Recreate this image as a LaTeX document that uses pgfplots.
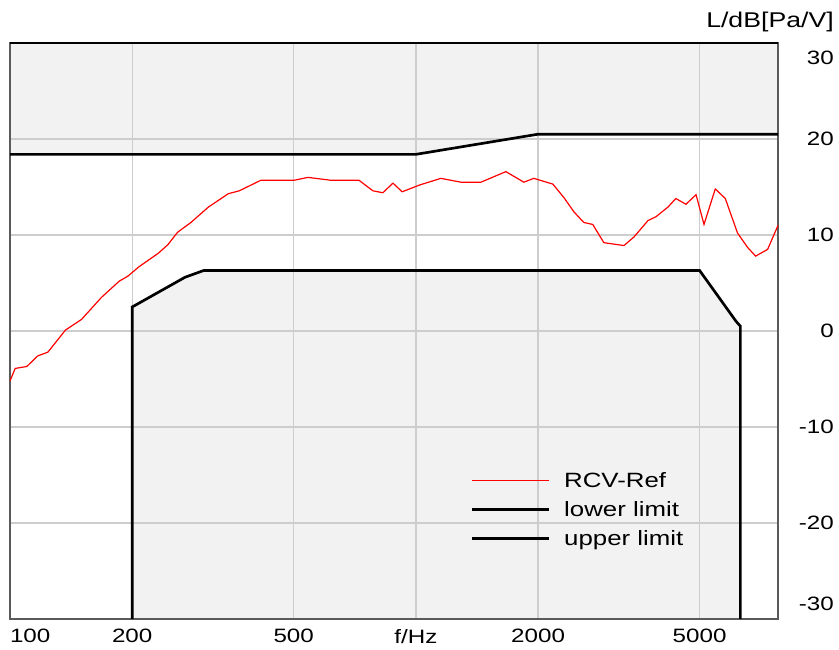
\documentclass[border=0pt]{standalone}
\usepackage{graphicx}
\usepackage{pgfplots}
\pgfplotsset{compat=1.18}
\usepackage{fontspec}
\setmainfont{Liberation Sans}
\definecolor{shade}{RGB}{242,242,242}
\definecolor{gridc}{RGB}{205,205,205}
\definecolor{frame}{RGB}{90,90,90}
\newcommand\tickfont{\fontsize{14.5}{17}\selectfont}
\newcommand\legfont{\fontsize{15.5}{18}\selectfont}
\newcommand\unitfont{\fontsize{16}{19}\selectfont}
\newcommand\W[1]{\scalebox{1.25}[1]{#1}}
\newcommand\LE[1]{\legfont\rule[-4pt]{0pt}{16pt}\hspace{9pt}\W{#1}}
\begin{document}
\begin{tikzpicture}[font=\tickfont]
\begin{axis}[
  set layers,
  scale only axis,
  width=576pt, height=432pt,
  xmode=log, log basis x=10,
  xmin=100, xmax=7800,
  ymin=-30, ymax=30,
  clip=false,
  xtick={100,200,500,1000,2000,5000},
  xticklabels={\makebox[0pt][l]{\W{100}},\W{200},\W{500},\W{f/Hz},\W{2000},\W{5000}},
  minor xtick={},
  ytick={-30,-20,-10,0,10,20,30},
  yticklabels={\raisebox{11pt}[\height][\depth]{\W{-30}},\W{-20},\W{-10},\W{0},\W{10},\W{20},\raisebox{-11pt}[\height][\depth]{\W{30}}},
  xticklabel pos=bottom,
  yticklabel pos=right,
  yticklabel style={anchor=east, inner sep=0pt, xshift=42pt},
  xticklabel style={anchor=north, inner sep=0pt, yshift=-7.5pt},
  /pgf/number format/assume math mode=true,
  tick style={draw=none},
  grid=major,
  major grid style={gridc, line width=1pt},
  axis line style={frame, line width=1.1pt},
  legend style={draw=none, fill=none, at={(0.599,0.259)}, anchor=north west,
    row sep=6.4pt, inner sep=0pt, nodes={inner sep=1pt}},
  legend cell align=left,
  legend image code/.code={\draw[#1] (0pt,0pt) -- (58pt,0pt);},
]
% shaded forbidden regions
\addplot[forget plot, draw=none, fill=shade, on layer=axis background] coordinates {
 (100,30) (7800,30) (7800,20.5) (2000,20.5) (1000,18.4) (100,18.4)} -- cycle;
\addplot[forget plot, draw=none, fill=shade, on layer=axis background] coordinates {
 (200,-30) (200,2.5) (270,5.6) (300,6.3) (5000,6.3) (6150,1.0) (6300,0.5) (6300,-30)} -- cycle;
% measured response
\addplot[red, line width=0.9pt,
  legend image code/.code={\draw[red, line width=1pt] (0pt,0pt) -- (58pt,0pt);}] coordinates {
 (100,-5.2) (103,-3.9) (110,-3.7) (117,-2.6) (124,-2.2) (137,0.1) (150,1.2)
 (168,3.5) (186,5.2) (195,5.7) (208,6.7) (232,8.1) (245,9.0) (259,10.3)
 (279,11.3) (308,12.9) (345,14.3) (367,14.6) (415,15.7) (501,15.7) (542,16.0)
 (618,15.7) (724,15.7) (784,14.6) (829,14.4) (878,15.4) (925,14.5) (1020,15.2)
 (1152,15.9) (1291,15.5) (1446,15.5) (1666,16.6) (1845,15.5) (1952,15.9)
 (2175,15.3) (2315,13.9) (2452,12.4) (2593,11.3) (2727,11.1) (2904,9.2)
 (3255,8.9) (3447,9.8) (3730,11.5) (3903,11.9) (4176,12.9) (4369,13.8)
 (4627,13.2) (4899,14.2) (5126,11.1) (5464,14.8) (5784,13.8) (6200,10.2)
 (6566,8.7) (6870,7.8) (7353,8.5) (7800,11.0)};
\addlegendentry{\LE{RCV-Ref}}
% lower limit
\addplot[black, line width=2pt,
  legend image code/.code={\draw[black, line width=2.4pt] (0pt,0pt) -- (58pt,0pt);}] coordinates {
 (200,-30) (200,2.5) (270,5.6) (300,6.3) (5000,6.3) (6150,1.0) (6300,0.5) (6300,-30)};
\addlegendentry{\LE{lower limit}}
% upper limit
\addplot[black, line width=2pt,
  legend image code/.code={\draw[black, line width=2.4pt] (0pt,0pt) -- (58pt,0pt);}] coordinates {
 (100,18.4) (1000,18.4) (2000,20.5) (7800,20.5)};
\addlegendentry{\LE{upper limit}}
\addplot[forget plot, black, line width=2pt] coordinates {(100,30) (7800,30)};
\coordinate (ll) at (rel axis cs:0,0);
\coordinate (ur) at (rel axis cs:1,1);
\node[anchor=east, inner sep=0pt, font=\unitfont] at ([shift={(42pt,16pt)}]rel axis cs:1,1) {\W{L/dB[Pa/V]}};
\end{axis}
\pgfresetboundingbox
\path ([shift={(-7.5pt,-23.25pt)}]ll) rectangle ([shift={(45.75pt,32.25pt)}]ur);
\end{tikzpicture}
\end{document}
